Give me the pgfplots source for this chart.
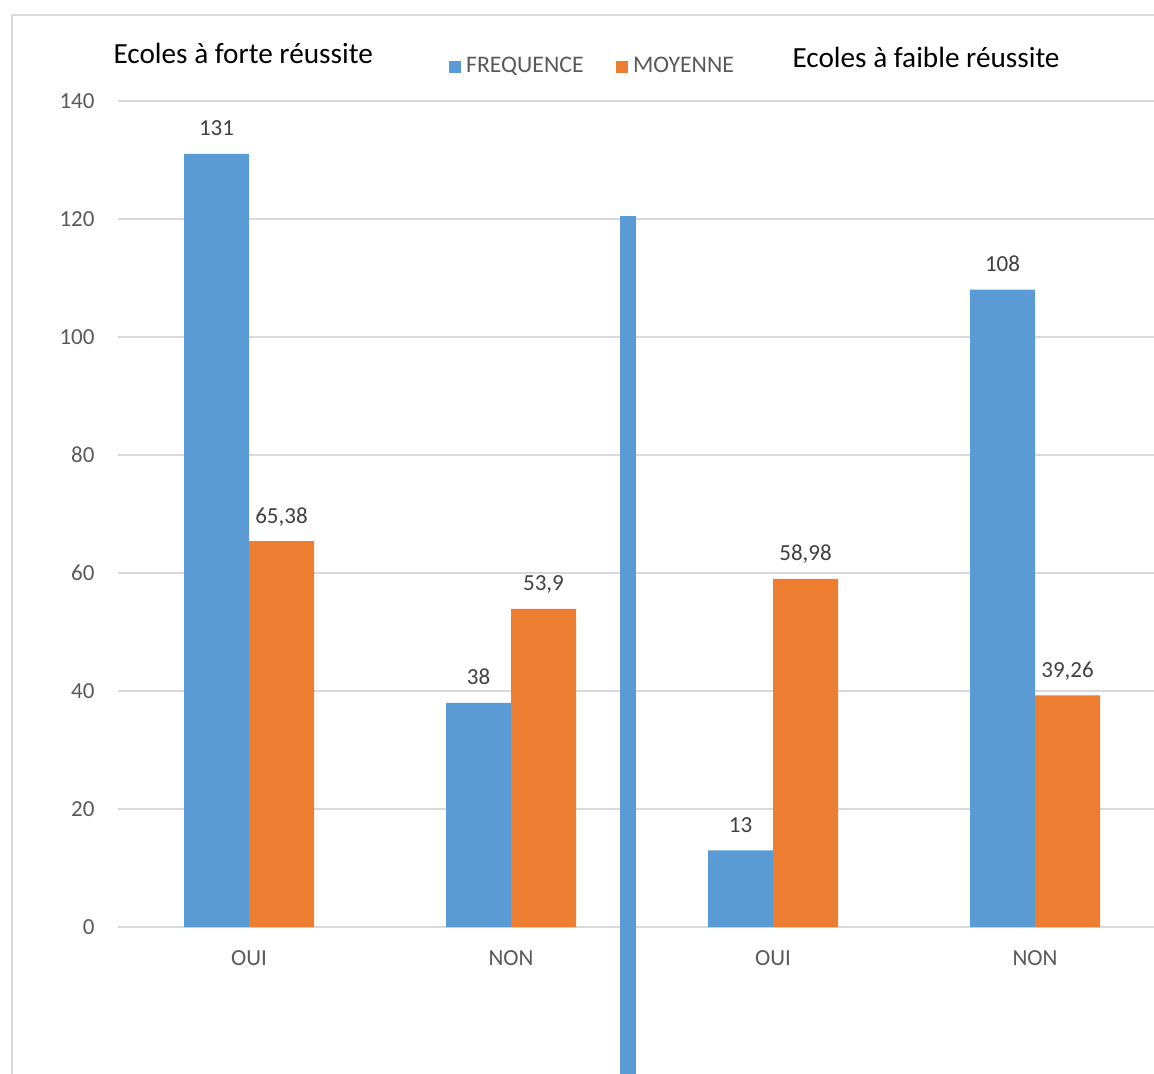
\documentclass[border=0pt]{standalone}
\usepackage{pgfplots}
\pgfplotsset{compat=1.18}
\usepackage{fontspec}
\setmainfont{Carlito}
\definecolor{cblue}{HTML}{5B9BD5}
\definecolor{corange}{HTML}{ED7D31}
\definecolor{cgrid}{HTML}{D9D9D9}
\definecolor{ctick}{HTML}{595959}
\definecolor{clabel}{HTML}{404040}
\pgfplotsset{
  /pgf/number format/assume math mode=true,
  sq legend/.style={legend image code/.code={\fill[##1, draw=none] (0pt,-2.4pt) rectangle (4.8pt,2.4pt);}},
}
\begin{document}
\begin{tikzpicture}
\begin{axis}[
  scale only axis, width=414.4pt, height=429.6pt,
  xmin=-0.5, xmax=3.454, ymin=-24.9, ymax=157.1,
  axis line style={draw=none},
  ytick={0,20,...,140},
  ymajorgrids, grid style={cgrid, line width=0.8pt},
  major tick length=0pt,
  xtick={0,1,2,3}, xticklabels={OUI,NON,OUI,NON},
  tick label style={font=\fontsize{9.2}{11}\selectfont, text=ctick},
  yticklabel style={inner sep=0pt, xshift=-9.2pt},
  xticklabel style={inner sep=0pt, yshift=49.6pt},
  clip=false,
  legend columns=2,
  legend style={at={(0.4595,0.9375)}, anchor=center, draw=none, fill=none,
    font=\fontsize{9.5}{11}\selectfont, text=ctick,
    /tikz/every even column/.append style={column sep=11pt}},
  every node near coord/.append style={font=\fontsize{9.2}{11}\selectfont, text=clabel, anchor=base, inner sep=0pt, yshift=7.2pt},
]
\addplot[ybar, sq legend, bar width=26pt, bar shift=-13pt, fill=cblue, draw=none,
  every node near coord/.append style={xshift=-13pt},
  nodes near coords={\pgfmathprintnumber[use comma]{\pgfplotspointmeta}}]
  coordinates {(0,131) (1,38) (2,13) (3,108)};
\addlegendentry{FREQUENCE}
\addplot[ybar, sq legend, bar width=26pt, bar shift=13pt, fill=corange, draw=none,
  every node near coord/.append style={xshift=13pt},
  nodes near coords={\pgfmathprintnumber[use comma, precision=2]{\pgfplotspointmeta}}]
  coordinates {(0,65.38) (1,53.9) (2,58.98) (3,39.26)};
\addlegendentry{MOYENNE}
\addplot[cblue, line width=6.4pt, forget plot] coordinates {(1.4466,120.5) (1.4466,-24.9)};
\node[anchor=base west, font=\fontsize{11.7}{14}\selectfont, inner sep=0pt] at (rel axis cs:-0.0048,0.9405) {Ecoles à forte réussite};
\node[anchor=base west, font=\fontsize{11.7}{14}\selectfont, inner sep=0pt] at (rel axis cs:0.6506,0.9370) {Ecoles à faible réussite};
\draw[cgrid, line width=1pt] (rel axis cs:-0.1023,0) -- (rel axis cs:-0.1023,0.986) -- (rel axis cs:1,0.986);
\coordinate (bbl) at (rel axis cs:-0.1139,0);
\coordinate (btr) at (rel axis cs:1,1);
\end{axis}
\pgfresetboundingbox
\path[use as bounding box] (bbl) rectangle (btr);
\end{tikzpicture}
\end{document}
